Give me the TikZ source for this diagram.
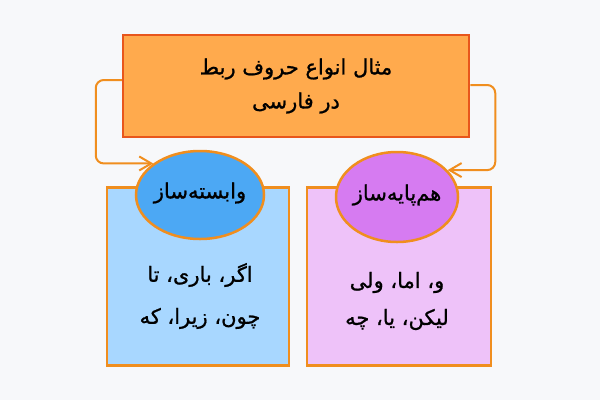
\documentclass[tikz,border=0pt]{standalone}
\usepackage{fontspec}
\newfontfamily\farsi[Script=Arabic,FakeBold=1]{DejaVu Sans}
\TeXXeTstate=1
\usetikzlibrary{shapes.geometric,arrows.meta}
\definecolor{bgcol}{HTML}{F7F8FA}
\definecolor{titlefill}{HTML}{FFAA4D}
\definecolor{titleline}{HTML}{E8561C}
\definecolor{edgeorange}{HTML}{F08E1E}
\definecolor{bluebox}{HTML}{A8D7FF}
\definecolor{blueoval}{HTML}{4CA8F4}
\definecolor{pinkbox}{HTML}{EEC2F9}
\definecolor{pinkoval}{HTML}{D67BF1}
\tikzset{
  groupbox/.style={draw=edgeorange, line width=2.5pt, minimum width=182pt, minimum height=178pt, inner sep=0pt},
  oval/.style={ellipse, draw=edgeorange, line width=2.5pt, inner sep=0pt},
  link/.style={draw=edgeorange, line width=2pt, rounded corners=8pt, -{Straight Barb[length=12pt,width=14pt]}},
  words/.style={font=\farsi\fontsize{21}{24}\selectfont, align=center}
}
\begin{document}
\begin{tikzpicture}[x=1pt,y=-1pt]
\fill[bgcol] (0,0) rectangle (600,400);
\useasboundingbox (0,0) rectangle (600,400);

% title
\node[draw=titleline, fill=titlefill, line width=2.5pt, minimum width=346pt, minimum height=102pt, inner sep=0pt] (title) at (296,86) {};
\node[words] (titletext) at (296,86) {\beginR مثال انواع حروف ربط\endR\\[10pt]\beginR در فارسی\endR};

% two groups
\node[groupbox, fill=bluebox] (wasbox) at (198,276.5) {};
\node[groupbox, fill=pinkbox, minimum width=184pt] (hambox) at (399,276.5) {};

\node[oval, fill=blueoval, minimum width=128pt, minimum height=88pt] (wasoval) at (200,195) {};
\node[oval, fill=pinkoval, minimum width=122pt, minimum height=90pt] (hamoval) at (397,197) {};
\node[words] (waslabel) at (200,193) {\beginR وابسته‌ساز\endR};
\node[words] (hamlabel) at (397,195) {\beginR هم‌پایه‌ساز\endR};

\node[words] (waslist) at (200,296) {\beginR اگر، باری، تا\endR\\[18pt]\beginR چون، زیرا، که\endR};
\node[words] (hamlist) at (397,301) {\beginR و، اما، ولی\endR\\[13pt]\beginR لیکن، یا، چه\endR};

% connectors
\draw[link] ([yshift=6pt]title.west) -- ++(-26,0) |- (wasoval.146);
\draw[link] ([yshift=1pt]title.east) -- ++(25,0) |- (hamoval.28);
\end{tikzpicture}
\end{document}
